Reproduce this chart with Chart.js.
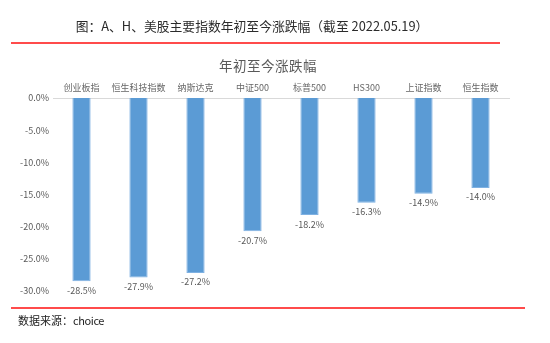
<!DOCTYPE html>
<html>
<head>
<meta charset="utf-8">
<script src="https://cdn.jsdelivr.net/npm/chart.js@4"></script>
<style>
  html, body { margin: 0; padding: 0; background: #fff; }
  #wrap { position: relative; width: 550px; height: 343px; overflow: hidden; font-family: "Noto Sans CJK SC", "Noto Sans", sans-serif; }
  #head { position: absolute; left: 0; width: 504px; text-align: center; top: 16px; font-size: 12.8px; color: #2b2b2b; white-space: nowrap; line-height: 20px; }
  #sub { position: absolute; left: 168px; width: 200px; text-align: center; top: 55px; font-size: 13.5px; color: #595959; line-height: 20px; letter-spacing: 0.5px; }
  .rule { position: absolute; height: 2px; background: #FF4B4B; }
  #foot { position: absolute; left: 18px; top: 312px; font-size: 11px; color: #222; line-height: 16px; }
  #foot span { letter-spacing: -0.4px; }
  #c { position: absolute; left: 0; top: 0; }
</style>
</head>
<body>
<div id="wrap">
  <canvas id="c" width="550" height="343"></canvas>
  <div id="head">图：A、H、美股主要指数年初至今涨跌幅（截至 2022.05.19）</div>
  <div class="rule" style="left:11px; top:42px; width:489px;"></div>
  <div id="sub">年初至今涨跌幅</div>
  <div class="rule" style="left:11px; top:307px; width:514px;"></div>
  <div id="foot">数据来源：<span>choice</span></div>
</div>
<script>
// Index names and year-to-date change (%)
const categories = ['创业板指', '恒生科技指数', '纳斯达克', '中证500', '标普500', 'HS300', '上证指数', '恒生指数'];
const ytdChange = [-28.5, -27.9, -27.2, -20.7, -18.2, -16.3, -14.9, -14.0];
const yTicks = [0, -5, -10, -15, -20, -25, -30];

const fontFamily = '"Noto Sans CJK SC", "Noto Sans", sans-serif';

// Writes each bar's value just below its end
const valueLabels = {
  id: 'valueLabels',
  afterDatasetsDraw(chart) {
    const ctx = chart.ctx;
    const meta = chart.getDatasetMeta(0);
    ctx.save();
    ctx.font = '9px ' + fontFamily;
    ctx.fillStyle = '#595959';
    ctx.textAlign = 'center';
    ctx.textBaseline = 'middle';
    meta.data.forEach((bar, i) => {
      ctx.fillText(ytdChange[i].toFixed(1) + '%', bar.x, bar.y + 9);
    });
    ctx.restore();
  }
};

new Chart(document.getElementById('c'), {
  type: 'bar',
  data: {
    labels: categories,
    datasets: [{
      data: ytdChange,
      backgroundColor: '#5B9BD5',
      borderColor: '#7FB1E2',
      borderWidth: 1,
      categoryPercentage: 1,
      barPercentage: 0.32
    }]
  },
  options: {
    responsive: false,
    animation: false,
    layout: { padding: { top: 80, bottom: 52, left: 0, right: 41 } },
    plugins: {
      legend: { display: false },
      tooltip: { enabled: false },
      title: { display: false }
    },
    scales: {
      x: {
        position: 'top',
        grid: { display: false, drawTicks: false },
        border: { display: true, color: '#D9D9D9', width: 1 },
        ticks: {
          color: '#666',
          font: { family: fontFamily, size: 9 },
          padding: 5,
          maxRotation: 0,
          autoSkip: false
        },
        afterFit(s) { s.height = 18; }
      },
      y: {
        min: -30,
        max: 0,
        grid: { display: false, drawTicks: false },
        border: { display: false },
        afterBuildTicks(s) { s.ticks = yTicks.map(v => ({ value: v })); },
        ticks: {
          color: '#595959',
          font: { family: fontFamily, size: 9 },
          padding: 4,
          callback: v => v.toFixed(1) + '%'
        },
        afterFit(s) { s.width = 53; }
      }
    }
  },
  plugins: [valueLabels]
});
</script>
</body>
</html>
